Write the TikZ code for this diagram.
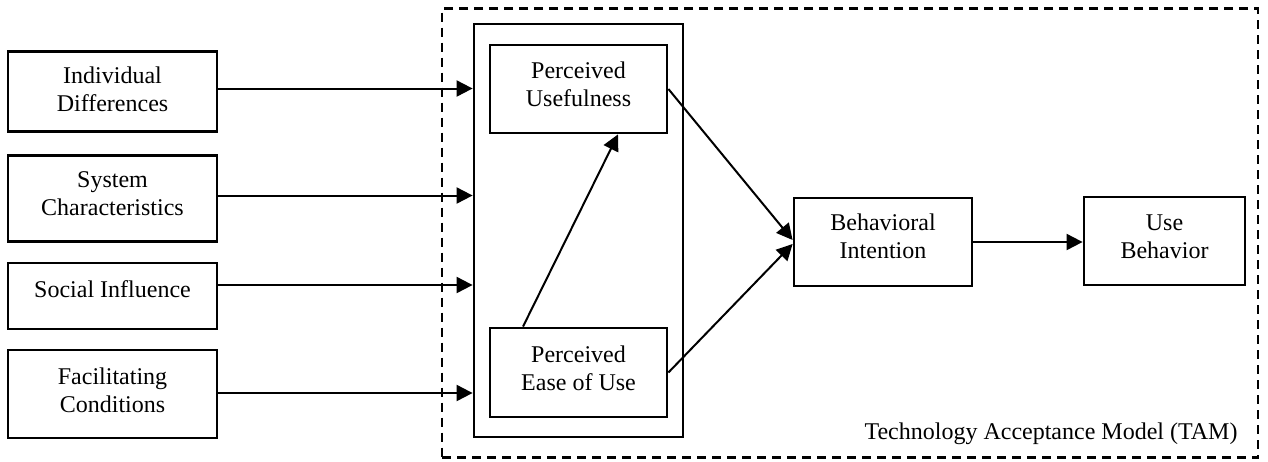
\documentclass[tikz,border=0pt]{standalone}
\usepackage{fontspec}
\setmainfont{Liberation Serif}
\usetikzlibrary{arrows.meta}
\begin{document}
\begin{tikzpicture}[x=0.5pt,y=-0.5pt,
  box/.style={draw,line width=1.4pt,inner sep=0pt},
  txt/.style={align=center,inner sep=0pt,font=\fontsize{12}{14}\selectfont},
  arr/.style={line width=1pt,-{Triangle[length=8pt,width=8pt]}},
  frame/.style={draw,line width=1.4pt,dash pattern=on 4.5pt off 3pt}]
\useasboundingbox (0,0) rectangle (1268,461);
% outer dashed frame
\node[frame,minimum width=408pt,minimum height=224.5pt,inner sep=0pt] (frm) at (850,233) {};
\node[txt] (lbl) at (1051,434) {Technology Acceptance Model (TAM)};
% inner TAM rect
\node[box,minimum width=104.5pt,minimum height=206.5pt] (tam) at (578.5,230.5) {};
% left boxes
\node[box,minimum width=104.5pt,minimum height=40pt] (id) at (112.5,91.5) {};
\node[txt] (idt) at ([yshift=1pt]id.center) {Individual\\Differences};
\node[box,minimum width=104.5pt,minimum height=43pt] (sc) at (112.5,198.5) {};
\node[txt] (sct) at ([yshift=2.25pt]sc.center) {System\\Characteristics};
\node[box,minimum width=104.5pt,minimum height=33pt] (si) at (112.5,296) {};
\node[txt] (sit) at ([yshift=3.5pt]si.center) {Social Influence};
\node[box,minimum width=104.5pt,minimum height=44pt] (fc) at (112.5,394) {};
\node[txt] (fct) at ([yshift=2pt]fc.center) {Facilitating\\Conditions};
% TAM boxes
\node[box,minimum width=88.5pt,minimum height=44pt] (pu) at (578.5,89) {};
\node[txt] (put) at ([yshift=2.5pt]pu.center) {Perceived\\Usefulness};
\node[box,minimum width=88.5pt,minimum height=44.5pt] (peou) at (578.5,372.5) {};
\node[txt] (peout) at ([yshift=2pt]peou.center) {Perceived\\Ease of Use};
\node[box,minimum width=89pt,minimum height=44pt] (bi) at (883,242) {};
\node[txt] (bit) at ([yshift=3pt]bi.center) {Behavioral\\Intention};
\node[box,minimum width=80.5pt,minimum height=44pt] (ub) at (1164.5,241) {};
\node[txt] (ubt) at ([yshift=2pt]ub.center) {Use\\Behavior};
% arrows from left boxes
\draw[arr] ([yshift=1.5pt]id.east) -- ([yshift=1.5pt]id.east -| tam.west);
\draw[arr] ([yshift=1.5pt]sc.east) -- ([yshift=1.5pt]sc.east -| tam.west);
\draw[arr] ([yshift=5.5pt]si.east) -- ([yshift=5.5pt]si.east -| tam.west);
\draw[arr] ([yshift=0.5pt]fc.east) -- ([yshift=0.5pt]fc.east -| tam.west);
% internal arrows
\draw[arr] ([xshift=-27.75pt]peou.north) -- ([xshift=19.75pt]pu.south);
\draw[arr] (pu.east) -- ([yshift=1pt]bi.west);
\draw[arr] (peou.east) -- ([yshift=-1pt]bi.west);
\draw[arr] (bi.east) -- (bi.east -| ub.west);
\end{tikzpicture}
\end{document}
